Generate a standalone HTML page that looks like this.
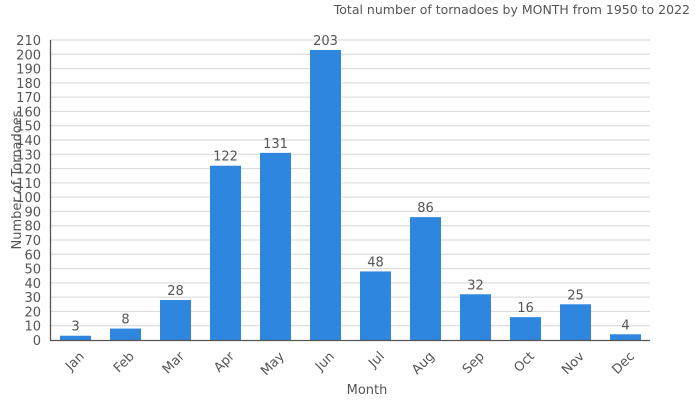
<!DOCTYPE html>
<html><head><meta charset="utf-8"><style>
body{margin:0;background:#fff;}
svg{display:block;font-family:"DejaVu Sans","Liberation Sans",sans-serif;}
</style></head><body>
<svg width="700" height="400" viewBox="0 0 700 400" xmlns="http://www.w3.org/2000/svg">
<rect width="700" height="400" fill="#fff"/>
<g stroke="#d6d6d6" stroke-width="1">
<line x1="50" x2="650" y1="325.71" y2="325.71"/><line x1="50" x2="650" y1="311.43" y2="311.43"/><line x1="50" x2="650" y1="297.14" y2="297.14"/><line x1="50" x2="650" y1="282.86" y2="282.86"/><line x1="50" x2="650" y1="268.57" y2="268.57"/><line x1="50" x2="650" y1="254.29" y2="254.29"/><line x1="50" x2="650" y1="240" y2="240"/><line x1="50" x2="650" y1="225.71" y2="225.71"/><line x1="50" x2="650" y1="211.43" y2="211.43"/><line x1="50" x2="650" y1="197.14" y2="197.14"/><line x1="50" x2="650" y1="182.86" y2="182.86"/><line x1="50" x2="650" y1="168.57" y2="168.57"/><line x1="50" x2="650" y1="154.29" y2="154.29"/><line x1="50" x2="650" y1="140" y2="140"/><line x1="50" x2="650" y1="125.71" y2="125.71"/><line x1="50" x2="650" y1="111.43" y2="111.43"/><line x1="50" x2="650" y1="97.14" y2="97.14"/><line x1="50" x2="650" y1="82.86" y2="82.86"/><line x1="50" x2="650" y1="68.57" y2="68.57"/><line x1="50" x2="650" y1="54.29" y2="54.29"/><line x1="50" x2="650" y1="40" y2="40"/>
</g>
<g font-size="13" fill="#555" text-anchor="end">
<text x="41" y="345">0</text><text x="41" y="330.7">10</text><text x="41" y="316.4">20</text><text x="41" y="302.1">30</text><text x="41" y="287.9">40</text><text x="41" y="273.6">50</text><text x="41" y="259.3">60</text><text x="41" y="245">70</text><text x="41" y="230.7">80</text><text x="41" y="216.4">90</text><text x="41" y="202.1">100</text><text x="41" y="187.9">110</text><text x="41" y="173.6">120</text><text x="41" y="159.3">130</text><text x="41" y="145">140</text><text x="41" y="130.7">150</text><text x="41" y="116.4">160</text><text x="41" y="102.1">170</text><text x="41" y="87.9">180</text><text x="41" y="73.6">190</text><text x="41" y="59.3">200</text><text x="41" y="45">210</text>
</g>
<g fill="#2e86de">
<rect x="60" y="335.71" width="31" height="4.29"/>
<rect x="110" y="328.57" width="31" height="11.43"/>
<rect x="160" y="300" width="31" height="40"/>
<rect x="210" y="165.71" width="31" height="174.29"/>
<rect x="260" y="152.86" width="31" height="187.14"/>
<rect x="310" y="50" width="31" height="290"/>
<rect x="360" y="271.43" width="31" height="68.57"/>
<rect x="410" y="217.14" width="31" height="122.86"/>
<rect x="460" y="294.29" width="31" height="45.71"/>
<rect x="510" y="317.14" width="31" height="22.86"/>
<rect x="560" y="304.29" width="31" height="35.71"/>
<rect x="610" y="334.29" width="31" height="5.71"/>
</g>
<g font-size="13" fill="#555" text-anchor="middle">
<text x="75.5" y="330.7">3</text><text x="125.5" y="323.6">8</text><text x="175.5" y="295">28</text><text x="225.5" y="160.7">122</text><text x="275.5" y="147.9">131</text><text x="325.5" y="45">203</text><text x="375.5" y="266.4">48</text><text x="425.5" y="212.1">86</text><text x="475.5" y="289.3">32</text><text x="525.5" y="312.1">16</text><text x="575.5" y="299.3">25</text><text x="625.5" y="329.3">4</text>
</g>
<line x1="50.5" y1="40" x2="50.5" y2="340.5" stroke="#555" stroke-width="1.3"/>
<line x1="50" y1="340.5" x2="650" y2="340.5" stroke="#555" stroke-width="1.3"/>
<g font-size="13" fill="#555" text-anchor="end">
<text transform="translate(85,357) rotate(-45)">Jan</text>
<text transform="translate(135,357) rotate(-45)">Feb</text>
<text transform="translate(185,357) rotate(-45)">Mar</text>
<text transform="translate(235,357) rotate(-45)">Apr</text>
<text transform="translate(285,357) rotate(-45)">May</text>
<text transform="translate(335,357) rotate(-45)">Jun</text>
<text transform="translate(385,357) rotate(-45)">Jul</text>
<text transform="translate(435,357) rotate(-45)">Aug</text>
<text transform="translate(485,357) rotate(-45)">Sep</text>
<text transform="translate(535,357) rotate(-45)">Oct</text>
<text transform="translate(585,357) rotate(-45)">Nov</text>
<text transform="translate(635,357) rotate(-45)">Dec</text>
</g>
<text x="367" y="394" font-size="13" fill="#555" text-anchor="middle">Month</text>
<text transform="translate(21,180) rotate(-90)" font-size="13" fill="#555" text-anchor="middle">Number of Tornadoes</text>
<text x="690" y="14" font-size="12.5" fill="#555" text-anchor="end">Total number of tornadoes by MONTH from 1950 to 2022</text>
</svg>
</body></html>
